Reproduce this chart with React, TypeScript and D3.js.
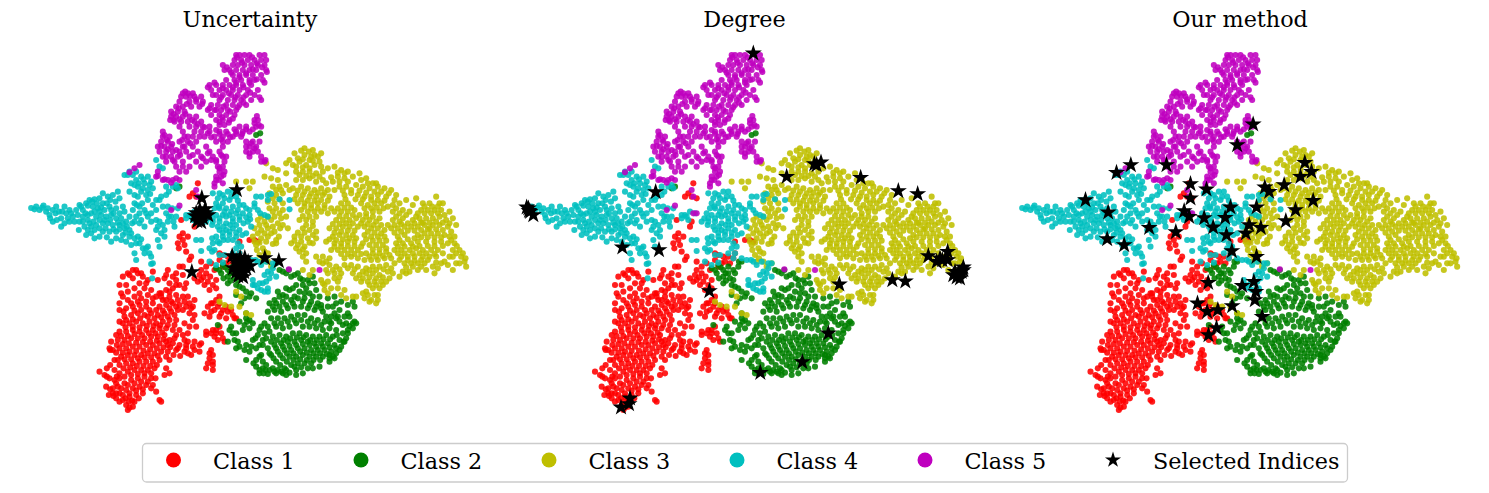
import React from "react";
import * as d3 from "d3";

const titles = ["Uncertainty", "Degree", "Our method"];
const classNames = ["Class 1", "Class 2", "Class 3", "Class 4", "Class 5"];
const classColors = ["#ff0000", "#008000", "#bfbf00", "#00bfbf", "#bf00bf"];

const class1 = [490,580,480,590,490,600,475,610,495,615,500,635,515,650,510,660,525,560,530,545,485,540,535,430,520,460,510,470,530,470,545,475,705,600,690,600,715,605,660,605,610,645,625,650,640,650,600,660,655,655,620,670,645,670,610,680,
545,665,560,680,575,670,585,690,560,700,540,705,525,715,545,720,565,725,580,735,590,745,570,750,600,770,580,790,565,800,555,820,575,815,595,800,610,810,625,815,600,830,620,835,640,825,650,835,590,870,575,880,560,885,585,890,605,880,615,905,595,900,575,930,580,945,570,955,565,970,580,965,560,985,580,990,
310,710,325,700,340,690,355,700,370,710,385,720,340,715,360,730,345,745,375,745,400,695,415,720,480,680,470,700,445,690,490,705,470,720,450,730,435,715,480,735,460,745,500,730,440,750,425,760,
310,770,325,780,345,770,365,775,385,765,410,770,430,780,450,770,470,765,490,770,510,790,300,810,320,805,340,800,360,795,380,800,400,790,420,800,440,795,460,790,480,795,500,800,520,800,
315,830,335,825,355,820,375,825,395,820,415,825,435,820,455,815,475,810,510,820,520,840,310,850,330,850,350,845,370,850,390,845,410,850,430,845,450,840,470,840,
300,875,320,875,340,870,360,875,380,870,400,870,420,865,440,865,480,870,490,885,295,900,315,900,335,895,355,895,375,895,395,890,415,890,435,885,
280,930,300,925,320,925,340,920,360,920,380,915,400,915,420,910,440,905,460,910,480,915,500,915,520,920,545,910,305,950,325,945,345,945,365,945,385,940,405,940,425,935,445,935,470,930,495,935,515,945,
300,975,320,970,340,970,360,965,380,965,400,965,420,960,450,960,440,985,240,995,255,1005,270,1015,285,1020,300,1000,325,995,345,990,365,990,385,990,405,985,435,1005,450,1000,
280,1045,295,1040,315,1030,335,1020,355,1015,375,1010,395,1015,400,1035,380,1035,360,1040,340,1045,320,1050,300,1060,280,1060,410,1055,290,1075,310,1080,330,1070,350,1065,370,1060,320,1095,340,1100,345,1085,420,1080,425,1085,325,1110];
const class1More = [478,625,505,590,545,690,552,712,572,710,590,720,535,725,555,735,600,640,630,665,660,640,
590,780,575,790,600,790,620,800,635,810,585,810,605,820,570,830,645,835,560,875,580,870,600,860,590,880,610,895,580,975,570,940,
330,705,350,690,365,700,380,730,395,750,360,760,325,755,300,735,490,680,460,710,440,705,470,735,495,745,450,755,425,770,
300,790,335,790,355,785,380,785,400,775,420,760,440,780,455,785,475,780,495,785,515,805,312,815,345,812,365,810,390,810,410,810,430,812,450,805,470,800,490,810,525,825,
320,840,340,838,362,835,385,830,405,835,425,832,445,830,465,825,300,845,318,862,340,860,360,862,382,858,402,858,422,856,445,855,465,855,
305,888,325,888,345,882,368,885,388,880,408,880,428,878,292,915,310,912,328,910,350,908,370,906,392,905,412,902,432,898,
272,930,290,938,310,938,330,935,350,933,372,932,392,928,412,925,432,922,452,922,475,925,500,925,525,930,540,915,
295,960,315,958,335,958,355,955,375,952,395,952,415,948,440,950,462,945,482,948,505,940,
312,985,332,982,352,978,372,978,392,978,412,975,262,1010,292,1010,315,1010,335,1005,355,1002,375,1000,395,1000,408,1015,
290,1030,305,1045,325,1035,345,1030,365,1025,385,1025,395,1045,370,1048,350,1052,330,1060,310,1065,290,1060,272,1048,282,1068,300,1085,318,1075,338,1082,358,1075,328,1085,330,1103];
const class1Edge = [275,905,290,885,270,925,285,960,262,985,305,760,320,735,505,770,525,780,495,850,510,860,530,860,505,880,495,900,525,905,505,905,540,935,460,870,470,885,450,900,445,915,465,895,285,990,272,975,300,1015,260,1040,268,1065];

const class2 = [590,685,610,675,625,690,640,680,605,700,625,710,645,715,660,700,670,680,680,665,655,720,625,730,660,740,680,755,690,770,710,775,650,765,665,790,
780,690,800,700,815,710,835,700,850,720,830,735,870,730,880,710,860,745,775,755,790,765,810,750,840,755,870,760,890,750,900,770,905,795,945,770,965,785,985,795,1005,800,1000,785,925,775,950,790,
750,790,770,790,790,785,815,780,835,775,855,775,875,785,895,790,745,815,765,810,785,815,805,805,825,800,845,800,865,805,885,810,910,815,935,830,
680,820,690,840,675,855,690,865,735,850,755,835,775,835,795,835,815,830,835,825,855,825,875,835,895,840,915,845,945,820,960,845,980,850,1000,850,
635,860,650,880,645,900,660,920,625,905,720,870,715,885,700,900,680,915,690,935,710,925,730,900,750,875,770,860,790,865,810,860,830,850,850,860,870,860,890,865,910,870,930,865,950,870,970,880,
740,895,760,890,780,885,800,890,820,880,840,880,860,885,880,890,900,890,920,885,940,890,960,900,980,895,725,945,745,925,765,915,785,910,805,905,825,905,845,900,865,905,885,910,905,910,925,910,945,915,965,920,
710,960,730,965,755,945,775,935,795,930,815,930,835,925,855,925,875,930,895,930,915,930,935,935,950,940,680,960,710,980,730,985,750,990,770,965,790,955,810,950,830,950,850,945,870,950,890,950,910,950,930,955,
775,990,795,985,815,975,835,970,855,970,875,970,720,1000,745,1002,790,1000,810,998,830,990,710,285,722,280,480,440,470,445,595,855];
const class2More = [600,690,617,682,632,700,655,690,672,665,640,700,612,715,633,722,650,735,670,745,695,760,675,775,
790,695,808,690,825,705,842,715,865,720,885,730,850,735,820,745,800,745,780,770,800,770,825,770,855,760,880,770,
765,780,780,800,760,800,800,795,820,790,850,785,870,795,890,800,905,805,925,800,920,830,935,850,
700,850,683,845,670,870,660,845,680,835,725,860,745,860,765,850,785,850,805,845,825,840,845,840,865,845,885,850,905,855,930,845,950,835,970,855,990,858,1005,845,
640,880,630,870,655,905,650,925,735,880,708,895,695,920,675,930,720,915,755,905,772,900,792,900,812,895,832,892,852,892,872,900,892,900,912,898,932,898,952,885,972,905,985,880,
730,915,750,940,770,925,790,920,810,918,830,915,850,912,870,915,890,920,910,920,930,922,950,925,
720,950,740,975,762,955,782,945,802,940,822,940,842,935,862,938,882,940,902,940,922,942,940,950,
702,970,720,990,738,990,760,985,782,975,802,965,822,960,842,958,862,960,882,960,902,960,930,945,
765,995,785,995,800,990,825,980,845,982,865,985,732,1000];
const class2Edge = [985,820,1010,850,960,810,975,830,990,830,940,800,955,830,1000,865,985,870,975,905,960,930,945,955,930,965,900,980,880,985,850,1000,830,1005,800,1005,770,1000];

const class3 = [855,325,880,330,885,345,825,340,855,345,870,360,895,350,905,340,800,370,820,375,840,365,860,375,885,375,760,385,775,390,740,370,830,395,850,395,870,395,890,400,910,395,945,380,965,390,985,395,
650,425,680,425,700,425,690,445,955,410,975,415,1000,410,1020,400,1040,415,1060,430,830,420,850,420,870,415,890,425,910,420,940,425,
760,440,780,440,800,435,820,445,845,440,865,445,885,450,905,445,925,450,960,440,980,440,1010,435,1030,440,1050,445,1075,440,1095,445,1115,450,
750,460,770,465,790,460,830,465,850,465,870,470,890,470,910,465,930,470,975,465,995,460,1015,465,1035,470,1055,470,1075,465,1100,470,1125,480,1140,490,
745,485,765,490,790,490,835,490,855,490,875,495,895,490,915,495,965,490,985,490,1025,490,1045,495,1065,490,1085,490,1105,500,1210,490,1230,490,1260,490,
760,515,780,520,800,530,845,510,865,515,885,515,905,515,925,520,945,515,965,515,985,515,1005,510,1040,520,1060,515,1080,515,1120,515,1140,520,1160,525,1205,510,1225,510,1245,510,1265,510,
715,540,735,545,755,540,775,550,790,555,805,565,840,540,860,540,880,545,950,540,970,540,990,540,1010,535,1030,540,1050,540,1070,545,1120,540,1140,545,1180,540,1200,535,1220,535,1240,535,1260,530,1280,540,
705,565,725,570,745,565,765,575,850,565,870,570,890,575,930,565,950,565,970,560,990,560,1015,560,1035,560,1055,565,1075,565,1095,570,1115,565,1135,565,1155,560,1175,560,1195,560,1215,555,1240,555,1260,555,1285,560,1295,575,
700,590,725,595,745,590,770,600,825,590,845,590,865,595,890,595,940,590,960,585,980,585,1000,585,1035,585,1055,590,1075,590,1095,590,1135,590,1155,585,1195,585,1215,580,1235,580,1255,580,1275,585,
710,615,730,625,770,610,815,610,835,615,855,620,880,610,920,605,945,610,965,610,985,605,1005,605,1030,610,1050,615,1070,615,1090,615,1130,610,1150,610,1175,610,1195,605,1220,605,1245,605,1265,605,1285,610,1305,610,
720,645,745,640,840,635,860,640,935,630,955,630,975,630,995,630,1015,630,1040,640,1060,640,1080,640,1100,635,1125,630,1145,630,1170,630,1190,625,1210,630,1235,630,1255,630,1320,630,
725,665,745,665,770,670,850,690,860,665,890,650,910,650,930,655,975,655,995,650,1015,655,1035,660,1055,660,1075,660,1095,655,1115,655,1145,650,1165,650,1185,650,1210,650,1230,650,1250,650,1325,650,1335,665,
755,680,880,690,910,670,930,675,950,680,975,675,995,675,1015,680,1040,685,1060,680,1080,680,1100,675,1125,670,1155,670,1175,670,1195,670,1215,670,1240,680,1265,670,1285,675,1300,690,
870,705,905,720,925,700,945,700,965,700,1000,700,1020,705,1040,700,1060,700,1080,705,1105,695,1150,695,1170,695,1195,690,1245,700,1220,690,915,735,935,745,955,725,1025,725,1045,725,1065,725,1085,725,
915,750,965,765,980,775,1040,755,1060,745,1080,745,1035,775,1055,780,1075,780,600,785,650,755,665,770,680,820,695,825,635,800,615,795,660,800];
const class3More = [845,332,868,335,875,350,835,355,810,360,850,358,880,362,900,365,830,380,850,382,870,385,905,380,925,385,955,398,975,400,
935,412,960,425,985,425,1025,420,1045,430,1070,430,840,405,860,408,880,408,900,410,920,430,
770,450,785,450,810,450,835,452,855,455,875,460,895,458,915,458,945,450,970,452,995,450,1020,452,1040,458,1065,455,1085,455,1108,460,1130,465,
760,475,780,478,825,478,845,478,865,482,885,482,905,480,925,482,978,478,1008,478,1030,478,1055,480,1075,480,1095,482,1120,495,1215,500,1238,500,1255,500,
750,505,770,505,790,510,855,500,875,505,895,505,915,505,935,505,955,505,975,503,995,503,1035,505,1055,505,1072,503,1092,505,1130,505,1150,510,1170,515,1195,520,1215,520,1235,520,1255,520,1275,525,
725,530,745,530,765,530,785,535,850,528,870,530,890,530,960,528,980,528,1000,525,1020,525,1040,530,1060,530,1080,535,1130,530,1150,535,1190,530,1210,548,1230,548,1250,545,1270,548,1290,550,
720,555,740,555,760,560,782,565,860,555,880,558,940,552,960,552,980,550,1000,550,1025,550,1045,552,1062,555,1085,555,1105,555,1125,555,1145,552,1165,550,1185,550,1205,548,1230,565,1250,568,1270,570,1290,590,
715,580,735,580,755,580,778,590,835,578,855,578,880,585,945,578,965,575,985,572,1005,572,1045,575,1065,578,1085,580,1125,578,1145,575,1165,572,1185,572,1205,570,1225,568,
705,605,720,608,740,605,760,612,825,602,845,605,870,608,930,598,950,600,970,598,990,595,1010,595,1040,598,1060,602,1080,602,1100,602,1140,600,1165,598,1185,595,1205,592,1225,592,1245,592,1265,592,1295,600,
712,630,735,635,830,625,850,628,945,620,965,620,985,618,1005,618,1025,620,1060,628,1080,628,1100,625,1135,620,1155,620,1180,620,1200,618,1225,618,1245,618,1270,618,1300,630,1312,618,
732,655,850,650,900,665,920,665,965,642,985,642,1005,642,1025,642,1050,650,1070,650,1090,648,1110,645,1135,640,1155,640,1180,640,1200,640,1220,640,1245,642,1330,640,1338,655,
920,690,940,690,960,688,985,685,1005,688,1030,695,1050,690,1070,690,1092,688,1115,685,1140,660,1165,660,1185,662,1205,660,1225,660,1250,668,1275,665,
1010,715,1030,715,1050,712,1070,715,1090,712,1160,682,1180,680,1205,680,1255,685,910,730,925,725,945,715,960,712,
1050,735,1070,735,1090,735,1045,765,1065,765,925,760,1050,785,1075,765];
const class3Edge = [755,415,775,420,800,400,735,410,1310,640,1320,670,1340,680,1310,670,1300,650,1290,650,1270,640,1160,700,1140,710,1120,700,1100,725,1110,715,1070,790,1030,760,1010,770,955,745,975,750,1000,770,1180,495,1190,475,1160,480,1250,470,1270,490,1290,515,1300,535,1310,555,1305,590];

const class4 = [35,504,50,500,60,510,72,497,80,515,90,525,100,545,100,510,110,500,118,515,125,535,125,560,135,500,140,520,150,510,160,530,150,545,135,550,
180,495,190,510,200,490,210,480,225,478,240,475,250,490,220,500,235,505,265,470,280,465,295,455,300,475,255,510,270,500,290,505,300,520,215,520,230,530,245,525,260,530,275,525,290,535,305,535,320,545,190,530,205,540,195,560,215,560,230,555,250,550,265,550,280,555,300,555,315,565,330,570,215,580,240,590,250,575,270,575,290,575,310,585,330,590,345,595,275,605,305,600,355,590,360,610,370,625,345,640,385,620,350,660,
315,405,330,395,350,395,335,430,350,420,365,410,385,410,355,440,375,430,395,425,365,455,385,450,400,445,380,465,420,380,410,360,430,385,440,440,460,440,470,435,440,465,420,480,400,495,345,490,360,500,375,510,385,530,360,520,345,545,360,550,375,560,410,540,415,560,425,580,440,520,455,530,445,545,465,560,435,590,415,600,420,620,395,650,400,670,390,640,395,672,
580,460,595,475,610,465,625,455,640,455,650,470,630,480,610,490,590,490,600,505,620,505,640,500,660,495,680,505,575,520,590,525,610,525,630,525,650,520,670,520,690,525,560,545,580,545,600,545,620,550,640,545,660,540,685,545,600,570,620,570,640,565,660,570,680,580,695,560,590,590,610,590,630,585,650,590,580,610,600,610,570,625,585,630,510,525,525,515,500,535,520,540,530,600,545,600,545,633,710,470,725,470,745,465,705,490,715,510,735,525,745,530,810,480,810,508,780,478,600,645,615,645,640,640,650,625,665,620,660,640,655,655,570,665,590,675,610,668,680,655,695,660,715,665,740,665,
770,670,760,685,745,695,735,705,750,715,770,710,700,720,705,735,715,745,730,730,745,745,735,755,398,715];
const class4More = [45,508,68,503,85,505,92,535,108,520,112,540,145,535,128,515,155,520,
185,500,205,497,218,485,232,490,245,502,262,490,275,510,282,520,240,515,225,515,205,525,198,520,210,550,222,545,240,540,255,540,272,540,295,548,310,550,322,560,205,570,225,570,240,565,258,565,282,568,300,568,318,578,335,580,350,610,365,598,375,640,
340,405,325,405,345,435,358,430,372,418,390,435,370,445,392,462,410,480,425,470,448,455,475,445,352,495,368,490,380,520,350,530,365,540,395,545,410,570,435,570,448,530,462,545,458,505,470,530,380,625,
600,460,615,475,635,470,655,482,598,500,615,515,635,515,655,510,672,495,690,510,585,505,580,535,600,535,620,530,640,535,660,530,680,532,568,535,578,555,595,560,612,560,632,555,650,555,672,550,692,538,610,578,630,575,650,578,668,585,595,605,612,600,578,595,625,600,640,600,578,635,655,610,705,500,722,520,745,480,755,462,
500,525,515,530,540,520,725,675,708,660,755,700,760,670,720,730,740,725,725,750,745,755,700,735];
const class4Edge = [170,510,175,525,165,545,180,545,190,545,178,570,200,585,225,595,262,592,290,595,320,605,335,615,250,460,272,480,288,485,310,500,315,515,330,530,338,550,340,510,345,465,330,455,355,470,385,480,410,510,395,520,430,500,445,500,475,505,420,545,430,555];

const class5 = [650,45,660,45,675,45,690,45,720,45,735,45,645,60,665,60,685,60,705,60,725,60,740,60,610,75,640,75,655,75,675,75,695,75,715,75,735,75,615,90,630,90,650,90,670,90,690,90,710,90,740,90,640,105,660,105,680,105,700,105,725,105,620,120,645,120,665,120,690,120,705,120,730,120,
570,135,590,135,610,135,630,135,650,135,670,135,695,135,575,150,600,150,620,150,640,150,660,150,685,150,715,150,590,165,610,165,635,165,655,165,680,165,705,165,600,180,625,180,645,180,665,180,695,180,725,180,575,195,595,195,620,195,640,195,660,195,680,195,565,210,585,210,605,210,625,210,650,210,575,225,600,225,620,225,645,225,590,240,610,240,630,240,705,240,715,240,600,255,615,255,
490,160,505,160,520,160,485,170,500,170,525,170,545,170,480,185,510,185,530,185,550,185,470,200,490,200,515,200,540,200,455,215,475,215,495,215,455,230,470,230,490,230,510,230,530,230,465,245,485,245,505,245,525,245,545,245,480,260,510,260,530,260,550,260,570,260,660,260,680,260,710,260,725,260,
430,275,490,275,525,275,545,275,570,275,600,275,620,275,650,275,670,275,690,275,430,290,450,290,495,290,520,290,555,290,585,290,610,290,640,290,665,290,425,305,445,305,480,305,505,305,530,305,590,305,625,305,680,305,700,305,720,305,415,320,435,320,455,320,490,320,520,320,560,320,610,320,690,320,710,320,
420,335,440,335,460,335,480,335,500,335,535,335,570,335,600,335,680,335,700,335,715,335,430,350,455,350,475,350,510,350,545,350,580,350,610,350,690,350,440,365,465,365,490,365,530,365,560,365,590,365,615,365,725,365,735,365,470,380,490,380,510,380,545,380,595,380,610,380,415,395,480,395,500,395,600,395,615,395,410,410,590,410,605,410,430,420,445,420,460,420,480,420,585,430,610,430,585,440,330,397,345,385,360,375,455,510,480,497,530,450,535,470,535,520,545,520,900,690,808,688];
const class5More = [652,52,668,68,698,52,712,70,728,82,742,96,700,88,680,100,660,112,635,98,622,82,650,128,672,142,690,128,712,118,735,128,640,142,610,145,585,128,565,142,580,165,605,172,628,160,648,172,672,172,692,158,720,172,612,200,590,210,570,205,632,215,655,202,672,188,608,232,628,248,600,246,640,236,712,228,705,250,718,255,700,268,680,268,668,282,645,268,625,282,605,298,600,282,590,270,
497,155,512,168,530,178,548,192,502,192,478,205,462,222,480,238,498,222,518,240,535,252,555,262,565,280,540,290,575,292,610,305,632,292,650,282,462,240,452,240,
435,285,442,300,458,312,425,318,445,328,470,330,488,300,505,290,512,310,495,320,482,345,460,360,440,350,520,345,550,355,565,340,575,360,590,360,605,345,620,350,600,385,612,405,598,420,680,320,695,310,705,325,690,340,725,350,738,360,415,408,435,418,455,428,470,415,590,420];

const selectedUncertainty = [547,474,652,450,736,654,778,663,517,696,530,519,541,510,557,519,566,525,539,531,551,534,533,543,545,546,527,528,557,507,650,666,662,654,676,654,686,666,641,684,656,675,668,672,680,684,692,678,650,696,662,690,674,696,656,708,671,711,638,648];
const selectedDegree = [715,40,815,410,898,372,918,367,905,375,1037,413,1150,453,1208,462,422,456,322,622,432,630,583,753,973,733,1132,720,1171,724,940,880,862,966,736,998,345,1075,318,1102,342,1092,40,505,35,502,45,515,55,525,42,512,1240,648,1298,635,1265,665,1282,660,1298,660,1275,655,1345,682,1340,695,1325,712,1315,705,1330,700,1345,690,1320,695,1335,715];
const selectedOurs = [728,253,680,315,883,368,903,395,870,410,821,435,763,442,776,455,908,482,855,510,826,543,738,502,751,563,716,555,706,580,468,375,361,375,318,398,225,480,293,517,290,597,341,615,416,563,496,576,521,513,536,530,540,432,540,475,588,448,581,534,608,562,660,502,644,533,648,585,664,633,738,650,593,728,695,737,730,725,736,755,733,780,561,790,590,815,622,810,665,798,755,830,618,864,594,885];

const legendX = [173.5, 361, 549, 737, 925];
const selectedName = "Selected Indices";
const font = "'DejaVu Serif', serif";

const toPairs = (a: number[]) => a.flatMap((v, i) => (i % 2 === 0 ? [[v, a[i + 1]]] : []));
const allClasses = [
  [...class1, ...class1More, ...class1Edge],
  [...class2, ...class2More, ...class2Edge],
  [...class3, ...class3More, ...class3Edge],
  [...class4, ...class4More, ...class4Edge],
  [...class5, ...class5More],
].map(toPairs);
const selections = [selectedUncertainty, selectedDegree, selectedOurs].map(toPairs);
const panelLeft = [0, 495.5, 991];
const titleX = [250, 744.5, 1240];

const yScale = d3.scaleLinear().domain([0, 1125]).range([40, 415]);
const star = d3.symbol(d3.symbolStar, 90)() as string;
const legendStar = d3.symbol(d3.symbolStar, 80)() as string;

export default function App() {
  return (
    <svg width={1489} height={493} style={{ position: "absolute", left: 0, top: 0, display: "block", background: "#fff" }}>
      {titles.map((t, p) => {
        const x = d3.scaleLinear().domain([0, 1410]).range([panelLeft[p] + 19.5, panelLeft[p] + 489.5]);
        return (
          <g key={t}>
            <text x={titleX[p]} y={27} textAnchor="middle" fontFamily={font} fontSize={22.3} fill="#000">{t}</text>
            {allClasses.map((pts, c) => (
              <g key={c} fill={classColors[c]} fillOpacity={0.88}>
                {pts.map((d, i) => <circle key={i} cx={x(d[0])} cy={yScale(d[1])} r={3.05} />)}
              </g>
            ))}
            {selections[p].map((d, i) => (
              <path key={i} d={star} transform={`translate(${x(d[0])},${yScale(d[1])})`} fill="#000" />
            ))}
          </g>
        );
      })}
      <rect x={142.5} y={443.5} width={1205} height={38.5} rx={4} fill="#fff" stroke="#cccccc" strokeWidth={1.3} />
      {classNames.map((n, i) => (
        <g key={n}>
          <circle cx={legendX[i]} cy={460} r={7.5} fill={classColors[i]} />
          <text x={legendX[i] + 39.5} y={469} fontFamily={font} fontSize={22.3} fill="#000">{n}</text>
        </g>
      ))}
      <path d={legendStar} transform="translate(1113,460)" fill="#000" />
      <text x={1153} y={469} fontFamily={font} fontSize={22.3} fill="#000">{selectedName}</text>
    </svg>
  );
}
